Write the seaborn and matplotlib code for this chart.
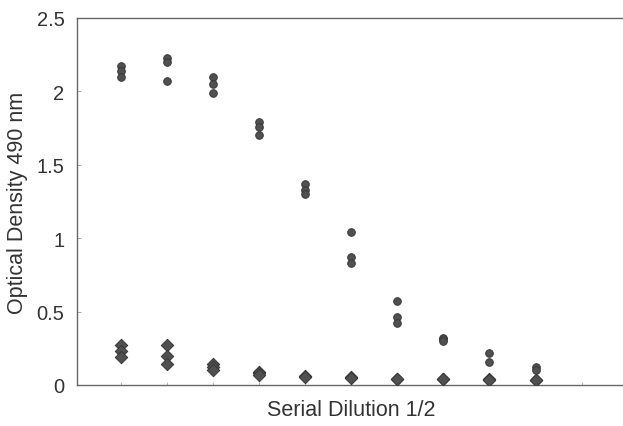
import matplotlib
matplotlib.use("Agg")
import matplotlib.pyplot as plt
import seaborn as sns
import pandas as pd

# Dilution step (1 = first dilution) for each replicate
circle_dilution = [1, 1, 1, 2, 2, 2, 3, 3, 3, 4, 4, 4, 5, 5, 5,
                   6, 6, 6, 7, 7, 7, 8, 8, 8, 9, 9, 10, 10]
circle_od = [2.17, 2.14, 2.10, 2.23, 2.20, 2.07, 2.10, 2.05, 1.99,
             1.79, 1.76, 1.70, 1.37, 1.33, 1.30,
             1.04, 0.87, 0.83, 0.57, 0.46, 0.42, 0.32, 0.31, 0.30,
             0.22, 0.16, 0.125, 0.10]

diamond_dilution = [1, 1, 1, 2, 2, 2, 3, 3, 3, 4, 4, 4, 5, 5,
                    6, 6, 7, 7, 8, 8, 9, 9, 10, 10]
diamond_od = [0.27, 0.23, 0.19, 0.27, 0.20, 0.14, 0.14, 0.12, 0.10,
              0.09, 0.08, 0.07, 0.06, 0.055,
              0.052, 0.048, 0.042, 0.038, 0.041, 0.038, 0.04, 0.036, 0.036, 0.033]

yticks = [0, 0.5, 1, 1.5, 2, 2.5]
ytick_labels = ["0", "0.5", "1", "1.5", "2", "2.5"]

df = pd.concat([
    pd.DataFrame({"dilution": circle_dilution, "od": circle_od, "group": "A"}),
    pd.DataFrame({"dilution": diamond_dilution, "od": diamond_od, "group": "B"}),
], ignore_index=True)

sns.set_theme(style="white")
plt.rcParams['font.family'] = ['Liberation Sans', 'DejaVu Sans']

fig = plt.figure(figsize=(6.23, 4.27), dpi=100)
ax = fig.add_axes([77/623, 1 - 386/427, 1 - 77/623, (386 - 19)/427])

sub_c = df[df.group == "A"]
sub_d = df[df.group == "B"]
sns.scatterplot(data=sub_c, x="dilution", y="od", marker="o", s=30,
                color="#505050", edgecolor="#383838", linewidth=0.7, ax=ax, zorder=3)
sns.scatterplot(data=sub_d, x="dilution", y="od", marker="D", s=40,
                color="#505050", edgecolor="#383838", linewidth=0.7, ax=ax, zorder=3)

ax.set_xlim(0.04, 11.9)
ax.set_ylim(0, 2.5)
ax.set_yticks(yticks)
ax.set_yticklabels(ytick_labels)
ax.set_xticks(range(1, 12))
ax.set_xticklabels([])
ax.tick_params(axis="y", direction="in", length=3, width=0.6, color="#999999",
               labelsize=14.5, labelcolor="#333333", pad=9, left=True)
ax.tick_params(axis="x", direction="in", length=2, width=0.6, color="#aaaaaa", bottom=True)

for side in ["left", "bottom", "top"]:
    ax.spines[side].set_visible(True)
    ax.spines[side].set_color("#666666")
    ax.spines[side].set_linewidth(1.0)
ax.spines["right"].set_visible(False)

ax.set_xlabel("")
ax.set_ylabel("")
fig.text(351/623, 1 - 411/427, "Serial Dilution 1/2", fontsize=15.5,
         color="#333333", ha="center", va="center")
fig.text(18/623, 1 - 203/427, "Optical Density 490 nm", fontsize=15.5,
         color="#333333", ha="center", va="center", rotation=90)
ax.grid(False)

fig.savefig("out.png", dpi=100)
